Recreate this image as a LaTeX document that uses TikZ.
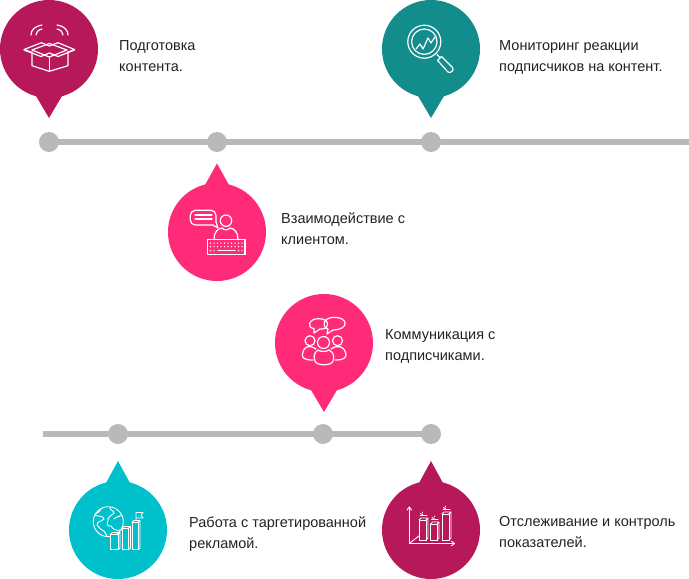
\documentclass[tikz,border=0pt]{standalone}
\usepackage{fontspec}
\setmainfont{Liberation Sans}
\definecolor{crimson}{HTML}{B7185A}
\definecolor{tealc}{HTML}{138C8C}
\definecolor{pinkc}{HTML}{FF2A78}
\definecolor{cyanc}{HTML}{00C0CC}
\definecolor{railc}{HTML}{B9B9B9}
\definecolor{txt}{HTML}{222222}
\pgfdeclarelayer{bg}
\pgfsetlayers{bg,main}
\tikzset{
  pinhead/.style={circle,minimum size=98pt,inner sep=0pt,outer sep=0pt},
  railstyle/.style={draw=railc,line width=5.5pt},
  railend/.style={circle,fill=railc,minimum size=20pt,inner sep=0pt,outer sep=0pt},
  caption/.style={anchor=west,align=left,inner sep=0pt,text=txt,font=\fontsize{14.5}{21}\selectfont},
  icon/.style={draw=white,line width=1.2pt,line join=round,line cap=round},
  thinicon/.style={draw=white,line width=0.9pt,line join=round,line cap=round},
}
\begin{document}
\begin{tikzpicture}[x=1pt,y=-1pt]
\useasboundingbox (0,0) rectangle (689,579);
% rails
\node[railend] (d1) at (49,142) {};
\node[railend] (d2) at (217,142) {};
\node[railend] (d3) at (431,142) {};
\coordinate (topend) at (689,142);
\node[railend] (d4) at (118,434) {};
\node[railend] (d5) at (323,434) {};
\node[railend] (d6) at (431,434) {};
\coordinate (botstart) at (43,434);
\begin{pgfonlayer}{bg}
\draw[railstyle] (d1.center) -- (topend);
\draw[railstyle] (botstart) -- (d6.center);
\end{pgfonlayer}
% pins
\fill[crimson] (36,96) -- (49,118) -- (62,96) -- cycle;
\node[pinhead,fill=crimson] (p1) at (49,49) {};
\fill[tealc] (418,96) -- (431,118) -- (444,96) -- cycle;
\node[pinhead,fill=tealc] (p2) at (431,49) {};
\fill[pinkc] (205,185) -- (217,163.5) -- (229,185) -- cycle;
\node[pinhead,fill=pinkc] (p3) at (217,232) {};
\fill[pinkc] (311,390) -- (324,412) -- (337,390) -- cycle;
\node[pinhead,fill=pinkc] (p4) at (324,343) {};
\fill[cyanc] (106,483) -- (118,461) -- (130,483) -- cycle;
\node[pinhead,fill=cyanc] (p5) at (118,530) {};
\fill[crimson] (419,483) -- (431,461) -- (443,483) -- cycle;
\node[pinhead,fill=crimson] (p6) at (431,530) {};
% captions
\node[caption] (t1) at (119,56.5) {Подготовка\\контента.};
\node[caption] (t2) at (499,57) {Мониторинг реакции\\подписчиков на контент.};
\node[caption] (t3) at (281,228.5) {Взаимодействие с\\клиентом.};
\node[caption] (t4) at (385,346.5) {Коммуникация с\\подписчиками.};
\node[caption] (t5) at (189,534) {Работа с таргетированной\\рекламой.};
\node[caption] (t6) at (499,532) {Отслеживание и контроль\\показателей.};
% icon 1: box
\draw[icon] (32,52) -- (32,65.7) -- (49.3,71.3) -- (68,65.7) -- (68,52);
\draw[icon] (49.3,57) -- (49.3,71.3);
\draw[icon] (32,50) -- (49.3,43.5) -- (67,50) -- (49.3,57) -- cycle;
\draw[icon] (32,52.5) -- (24,49.5) -- (41.5,42.7) -- (49.3,46) -- (58,42.7) -- (74.5,49.5) -- (67,52.5);
\draw[icon] (24,50) -- (41,56.5) -- (49.3,53) -- (58,56.5) -- (74.5,50);
\draw[icon] (31,35) .. controls (31,30) and (35,26) .. (42,25);
\draw[icon] (36,35) .. controls (36,32) and (38,30) .. (42,29);
\draw[icon] (68,35) .. controls (68,30) and (64,26) .. (57,25);
\draw[icon] (63,35) .. controls (63,32) and (61,30) .. (57,29);
% icon 2: magnifier
\draw[icon] (424.3,41.7) circle[radius=16.5];
\draw[icon] (424.3,41.7) circle[radius=12.7];
\draw[icon] (416,49) -- (420,44) -- (423,49) -- (428,38) -- (431,43) -- (435,37);
\draw[icon] (437,54.5) -- (440,57.5);
\draw[icon] (437.6,60.5) -- (441.5,56.5) .. controls (445,60) and (449,64) .. (452.5,67.5) .. controls (454.5,70) and (450.5,74) .. (448,72) .. controls (444.5,68.5) and (441,64) .. (437.6,60.5) -- cycle;
% icon 3: speech + keyboard
\draw[icon,rounded corners=5pt] (216,222) -- (216,210.3) -- (190.3,210.3) -- (190.3,225) -- (213,225);
\draw[icon] (213,225) -- (218,228) -- (216,222);
\draw[icon] (195,215) -- (212,215);
\draw[icon] (195,219) -- (212,219);
\draw[icon] (226,220.7) circle[radius=5.7];
\draw[icon] (214,239) .. controls (214,232) and (218,228.5) .. (222,228) .. controls (224,230.5) and (228,230.5) .. (230,228) .. controls (234,228.5) and (238,232) .. (238,239);
\draw[icon] (207.7,239.3) rectangle (245,254.3);
\foreach \yy in {243,246.5}
  \foreach \xx in {210.5,214,217.5,221,224.5,228,231.5,235,238.5,242}
    \fill[white] (\xx,\yy) circle[radius=0.75];
\foreach \xx in {210.5,214,238.5,242}
  \fill[white] (\xx,250.5) circle[radius=0.75];
\draw[icon] (218,250.5) -- (235,250.5);
% icon 4: people
\draw[icon] (314,328.5) .. controls (306,328) and (309,318) .. (319,318.7) .. controls (330,318.5) and (330,329) .. (322,329) -- (320,329) -- (314,333) -- cycle;
\draw[icon] (328,329) -- (327,334) -- (333,330) .. controls (350,329.5) and (348,317) .. (334,317.3) .. controls (323,317.5) and (321,327) .. (328,329) -- cycle;
\draw[icon] (310,340.7) circle[radius=5];
\draw[icon] (323.5,342.5) circle[radius=6];
\draw[icon] (337.5,340.7) circle[radius=5];
\draw[icon] (316,349) .. controls (310,345) and (304,345) .. (302.5,354) .. controls (302,358) and (304,360) .. (313,360);
\draw[icon] (331,349) .. controls (337,345) and (344,345) .. (346,354) .. controls (346,358) and (344,360) .. (335,360);
\draw[icon] (318,350) .. controls (313,353) and (314,358) .. (315,361) .. controls (316,366) and (332,366) .. (333,361) .. controls (334,358) and (335,353) .. (329,350) .. controls (326,352) and (321,352) .. (318,350) -- cycle;
% icon 5: globe + bars
\draw[thinicon] (108.3,521.7) circle[radius=15];
\draw[thinicon] (101,508.5) .. controls (100,513) and (96,512) .. (95,515) .. controls (98,517) and (103,515) .. (104,519) .. controls (101,522) and (97,521) .. (97,525) .. controls (100,527) and (100,530) .. (104,531) .. controls (105,533) and (106,534) .. (107,536);
\draw[thinicon] (110,507.5) .. controls (110,511) and (114,510) .. (114,513) .. controls (111,516) and (107,517) .. (108,521) .. controls (106,524) and (108,527) .. (111,526) .. controls (113,530) and (118,531) .. (120,530);
\draw[thinicon] (114,519) .. controls (117,516) and (120,517) .. (122,515);
\draw[thinicon,fill=cyanc] (110.7,534) -- (118.3,534) -- (118.3,549.5) -- (110.7,549.5) -- cycle;
\draw[thinicon] (110.7,534) -- (112.5,532.5) -- (120,532.5) -- (120,548) -- (118.3,549.5) (118.3,534) -- (120,532.5);
\draw[thinicon,fill=cyanc] (122,528) -- (128.5,528) -- (128.5,549.5) -- (122,549.5) -- cycle;
\draw[thinicon] (122,528) -- (124,526.5) -- (130.5,526.5) -- (130.5,548) -- (128.5,549.5) (128.5,528) -- (130.5,526.5);
\draw[thinicon,fill=cyanc] (132,522) -- (138,522) -- (138,549.5) -- (132,549.5) -- cycle;
\draw[thinicon] (132,522) -- (134,520.5) -- (140,520.5) -- (140,548) -- (138,549.5) (138,522) -- (140,520.5);
\draw[thinicon] (136,520.5) -- (136,512.5) -- (143,512.5) -- (141,515) -- (143,518) -- (136,518);
% icon 6: axes + bars
\draw[thinicon] (409.3,507) -- (409.3,543.5) -- (454.5,543.5);
\draw[thinicon] (407,510) -- (409.3,507) -- (411.6,510);
\draw[thinicon] (451.5,541.2) -- (454.5,543.5) -- (451.5,545.8);
\draw[thinicon] (409.3,543.5) -- (419.5,535.5);
\foreach \xa/\xb/\yt in {419/426/520,430.5/437/524,442/449/514}{
  \draw[thinicon] (\xa,\yt) rectangle (\xb,540);
  \draw[thinicon] (\xa,\yt) -- ({\xa+2},{\yt-2}) -- ({\xb+2},{\yt-2}) -- ({\xb+2},538) -- (\xb,540) (\xb,\yt) -- ({\xb+2},{\yt-2});
  \draw[thinicon] ({\xa+1},{\yt-5}) -- ({\xb+1},{\yt-5});
  \draw[thinicon] ({\xa+3.5},{\yt-8}) -- ({\xa+3.5},{\yt-7});
  \draw[thinicon] ({\xa+1.5},{\yt-6.5}) -- ({\xa+3.5},{\yt-5.5});
}
\end{tikzpicture}
\end{document}
